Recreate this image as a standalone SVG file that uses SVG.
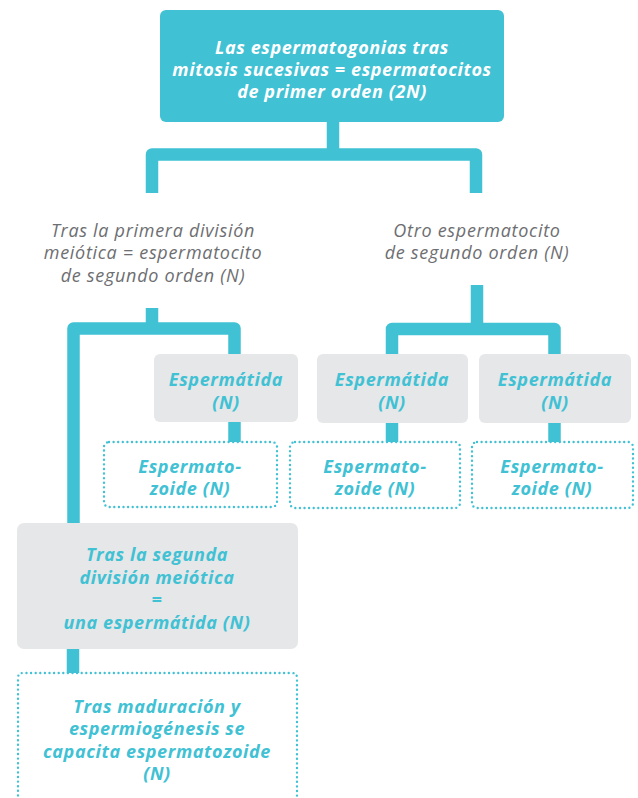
<svg xmlns="http://www.w3.org/2000/svg" width="638" height="798" viewBox="0 0 638 798">
<style>
.bar{fill:none;stroke:#40c1d4;stroke-width:12.5;stroke-linejoin:round}
.top{fill:#40c1d4}
.gray{fill:#e6e7e8}
.dot{fill:none;stroke:#40c1d4;stroke-width:2.4;stroke-dasharray:0 4.6;stroke-linecap:round}
.tw{font-family:"Open Sans","Liberation Sans",sans-serif;font-weight:bold;font-style:italic;font-size:18px;letter-spacing:0.6px;fill:#ffffff;text-anchor:middle}
.tb{font-family:"Open Sans","Liberation Sans",sans-serif;font-weight:bold;font-style:italic;font-size:18px;letter-spacing:0.6px;fill:#40c1d4;text-anchor:middle}
.tg{font-family:"Open Sans","Liberation Sans",sans-serif;font-style:italic;font-size:18px;letter-spacing:0.7px;fill:#6d6e71;text-anchor:middle}
</style>
<rect width="638" height="798" fill="#ffffff"/>
<g id="connectors">
<path class="bar" d="M333,122 V154.5 M152,193 V154.5 H476 V193"/>
<path class="bar" d="M152,308 V328.5 M73.5,523 V328.5 H234.5 V354 M234.5,422 V442"/>
<path class="bar" d="M477,285 V329 M392,354 V329 H554.5 V354 M392,423 V442 M554.5,423 V442"/>
<path class="bar" d="M73,649 V673"/>
</g>
<g id="n-top">
<rect class="top" x="160" y="10" width="344" height="112" rx="6"/>
<text class="tw" x="332" y="54">Las espermatogonias tras</text>
<text class="tw" x="332" y="76">mitosis sucesivas = espermatocitos</text>
<text class="tw" x="332" y="98">de primer orden (2N)</text>
</g>
<g id="n-left-label">
<text class="tg" x="153" y="237">Tras la primera división</text>
<text class="tg" x="153" y="259">meiótica = espermatocito</text>
<text class="tg" x="153" y="282">de segundo orden (N)</text>
</g>
<g id="n-right-label">
<text class="tg" x="477" y="237">Otro espermatocito</text>
<text class="tg" x="477" y="259">de segundo orden (N)</text>
</g>
<g id="n-esp1">
<rect class="gray" x="154" y="354" width="144" height="68" rx="6"/>
<text class="tb" x="226" y="386">Espermátida</text>
<text class="tb" x="226" y="409">(N)</text>
</g>
<g id="n-esp2">
<rect class="gray" x="317" y="354" width="151" height="69" rx="6"/>
<text class="tb" x="392" y="386">Espermátida</text>
<text class="tb" x="392" y="409">(N)</text>
</g>
<g id="n-esp3">
<rect class="gray" x="479" y="354" width="152" height="69" rx="6"/>
<text class="tb" x="555" y="386">Espermátida</text>
<text class="tb" x="555" y="409">(N)</text>
</g>
<g id="n-zoide1">
<rect class="dot" x="104" y="442" width="173" height="65" rx="5"/>
<text class="tb" x="190" y="473">Espermato-</text>
<text class="tb" x="190" y="495">zoide (N)</text>
</g>
<g id="n-zoide2">
<rect class="dot" x="290" y="442" width="170" height="66" rx="5"/>
<text class="tb" x="375" y="473">Espermato-</text>
<text class="tb" x="375" y="495">zoide (N)</text>
</g>
<g id="n-zoide3">
<rect class="dot" x="472" y="442" width="161" height="66" rx="5"/>
<text class="tb" x="552" y="473">Espermato-</text>
<text class="tb" x="552" y="495">zoide (N)</text>
</g>
<g id="n-segunda">
<rect class="gray" x="17" y="523" width="281" height="126" rx="7"/>
<text class="tb" x="157" y="561">Tras la segunda</text>
<text class="tb" x="157" y="584">división meiótica</text>
<text class="tb" x="157" y="606">=</text>
<text class="tb" x="157" y="629">una espermátida (N)</text>
</g>
<g id="n-maduracion">
<path class="dot" d="M18,800 V678 Q18,673 23,673 H292 Q297,673 297,678 V800"/>
<text class="tb" x="157" y="713">Tras maduración y</text>
<text class="tb" x="157" y="735">espermiogénesis se</text>
<text class="tb" x="157" y="758">capacita espermatozoide</text>
<text class="tb" x="157" y="780">(N)</text>
</g>
</svg>
